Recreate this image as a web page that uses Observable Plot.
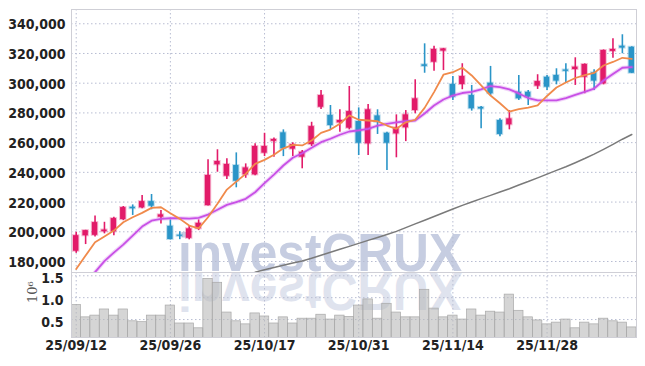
<!DOCTYPE html>
<html><head><meta charset="utf-8">
<script src="https://cdn.jsdelivr.net/npm/d3@7"></script>
<script src="https://cdn.jsdelivr.net/npm/@observablehq/plot@0.6"></script>
<style>
html,body{margin:0;padding:0;background:#fff;}
#chart{position:relative;width:645px;height:366px;overflow:hidden;background:#fff;}
#chart svg{position:absolute;left:0;}
</style></head><body><div id="chart"></div>
<script>
const dates = ["25/09/12","25/09/15","25/09/16","25/09/17","25/09/18","25/09/19","25/09/22","25/09/23","25/09/24","25/09/25",
"25/09/26","25/09/29","25/09/30","25/10/01","25/10/02","25/10/10","25/10/13","25/10/14","25/10/15","25/10/16",
"25/10/17","25/10/20","25/10/21","25/10/22","25/10/23","25/10/24","25/10/27","25/10/28","25/10/29","25/10/30",
"25/10/31","25/11/03","25/11/04","25/11/05","25/11/06","25/11/07","25/11/10","25/11/11","25/11/12","25/11/13",
"25/11/14","25/11/17","25/11/18","25/11/19","25/11/20","25/11/21","25/11/24","25/11/25","25/11/26","25/11/27",
"25/11/28","25/12/01","25/12/02","25/12/03","25/12/04","25/12/05","25/12/08","25/12/09","25/12/10","25/12/11"];

const openP  = [186900,197300,197600,200000,200100,208200,216500,216100,220300,209800,
203700,197700,195600,202000,217600,245100,237400,244600,238300,238300,
252900,260900,266600,255600,250200,258700,283800,278300,273300,269700,
274200,259200,278000,266300,265900,270000,281600,312400,314100,321600,
299100,299100,291700,283700,300000,274900,272000,293900,293900,298000,
304000,305200,308900,309200,304000,307000,299600,321400,324900,324200];
const highP  = [199700,201000,210700,206400,209800,217000,218100,224400,225100,214300,
208000,200000,204200,208000,248400,255200,249100,253100,245700,259200,
266300,263200,268600,259900,254700,273700,295100,285000,282100,297800,
283400,285700,282100,267000,278700,281600,302300,326500,324900,323400,
304500,313100,298500,284300,311300,276000,281600,305200,295100,305700,
305200,309700,313100,317100,313000,309000,322400,329900,332600,324500];
const lowP   = [185500,191400,196500,198600,197400,207500,211000,215500,214800,205300,
194500,194700,194600,200800,217300,240100,235200,229600,236000,237700,
250600,250200,250600,250600,242400,257400,282300,268600,267000,268600,
251300,251300,265500,241200,249800,260700,279400,306700,308100,308500,
288400,295600,281200,269300,291700,264000,268600,288400,285000,295800,
295100,298900,300300,298500,292900,295100,298900,316800,319800,306500];
const closeP = [197400,200800,206200,201200,208900,216300,215500,220300,217200,211400,
194800,197000,202000,205700,237900,247300,245300,234000,243000,257400,
257400,262100,255800,258700,253500,270800,291700,271500,274900,280900,
259600,282100,273700,259600,270000,278700,289500,311300,322700,323100,
290600,304500,282800,282600,292900,265500,276000,289500,290600,301100,
297300,301400,308000,310800,312600,301400,322000,322700,323600,306700];

const ma5 = [175000,184000,192900,196800,200800,206400,209800,212700,216100,216500,
212500,208700,204200,202300,209800,218800,228400,233800,239000,245700,
248400,251800,256200,258500,258100,261400,266600,268800,272700,278300,
275400,274900,274400,271500,269300,273700,275400,283400,294000,305700,
307400,310400,305200,298500,291700,286500,280900,282500,283600,285000,
291400,297100,300500,303500,305400,306900,311900,314300,317100,316300];
const ma20 = [null,null,172800,180300,186000,191400,197400,203500,207500,208700,
209100,209100,208900,209400,211600,214800,218100,219900,222200,226600,
232700,238500,244600,249800,252900,256500,260300,262600,265300,267500,
268200,269300,271500,272700,273700,274400,274900,279600,285000,289000,
291700,293400,294100,295800,298100,297400,295800,293100,290000,288400,
288400,288400,290000,292100,294100,296400,301800,306200,310400,310800];
const ma60 = [null,null,null,null,null,null,null,null,null,null,
null,null,null,null,null,null,null,null,null,172800,
174500,176000,177500,179000,180300,182200,184200,186200,188200,190200,
192200,194200,196200,198200,200300,202800,205300,207800,210300,212800,
215300,217800,220000,222300,224500,226800,229000,231500,233800,236300,
238800,241300,243800,246500,249300,252300,255500,258800,262300,265500];

const volume = [0.83,0.55,0.59,0.73,0.59,0.73,0.46,0.44,0.59,0.59,
0.82,0.41,0.41,0.30,1.43,1.34,0.66,0.46,0.39,0.64,
0.57,0.41,0.55,0.41,0.52,0.52,0.61,0.50,0.59,0.56,
0.82,0.96,0.52,0.86,0.66,0.55,0.55,1.18,0.75,0.55,
0.59,0.50,0.73,0.59,0.68,0.66,1.07,0.70,0.55,0.48,
0.39,0.43,0.50,0.30,0.43,0.39,0.52,0.46,0.43,0.32];

const priceTicks = [180000,200000,220000,240000,260000,280000,300000,320000,340000];
const dateTicks = ["25/09/12","25/09/26","25/10/17","25/10/31","25/11/14","25/11/28"];
const volumeTicks = [0.5,1.0,1.5];
const volumeTickLabels = ["0.5","1.0","1.5"];
const watermark = "investCRUX";
const volumeUnit = "10⁶";

const UP = "#e21b69", DOWN = "#2a95c8";
const FONT = "'DejaVu Sans Condensed','DejaVu Sans',sans-serif";
const GRID = {stroke: "#b8bdd2", strokeDasharray: "1.5,2.5", strokeWidth: 1};
const LABEL = {fontFamily: FONT, fontSize: 14, fontWeight: "bold", fill: "#222", fontStretch: "condensed"};

const candles = dates.map((d, i) => ({date: d, open: openP[i], high: highP[i], low: lowP[i], close: closeP[i],
  color: closeP[i] >= openP[i] ? UP : DOWN}));
const lines = (arr) => dates.map((d, i) => ({date: d, v: arr[i]}));
const vols = dates.map((d, i) => ({date: d, v: volume[i]}));
const volTicks = volumeTicks.map((v, i) => ({v, label: volumeTickLabels[i]}));

const style = {fontFamily: FONT, fontSize: "14px", color: "#222", background: "transparent", overflow: "visible"};

const price = Plot.plot({
  width: 645, height: 272,
  marginTop: 9, marginBottom: 0, marginLeft: 71, marginRight: 9,
  style,
  x: {type: "band", domain: dates, padding: 0, round: false, axis: null},
  y: {domain: [172600, 349600], axis: null},
  marks: [
    Plot.ruleY(priceTicks, GRID),
    Plot.ruleX(dateTicks, GRID),
    Plot.ruleX(candles, {x: "date", y1: "low", y2: "high", stroke: "color", strokeWidth: 1.6}),
    Plot.barY(candles, {x: "date", y1: "open", y2: "close", fill: "color", stroke: "color", strokeOpacity: 0.3, strokeWidth: 2, insetLeft: 2, insetRight: 2}),
    Plot.line(lines(ma60), {x: "date", y: "v", stroke: "#7a7a7a", strokeWidth: 1.5, clip: true}),
    Plot.line(lines(ma20), {x: "date", y: "v", stroke: "#c850e6", strokeOpacity: 0.25, strokeWidth: 4, clip: true}),
    Plot.line(lines(ma20), {x: "date", y: "v", stroke: "#c850e6", strokeWidth: 1.8, clip: true}),
    Plot.line(lines(ma5), {x: "date", y: "v", stroke: "#f08a4b", strokeWidth: 1.8, clip: true}),
    Plot.text(priceTicks, {y: d => d, text: d3.format(","), frameAnchor: "left", textAnchor: "end", dx: -6, dy: 1, ...LABEL}),
    Plot.frame({stroke: "#cfcfd6"})
  ]
});
price.style.top = "0px";

const vol = Plot.plot({
  width: 645, height: 94,
  marginTop: 0, marginBottom: 29, marginLeft: 71, marginRight: 9,
  style,
  x: {type: "band", domain: dates, padding: 0, round: false, axis: null},
  y: {domain: [0.09, 1.575], axis: null},
  marks: [
    Plot.ruleY(volumeTicks, GRID),
    Plot.ruleX(dateTicks, GRID),
    Plot.barY(vols, {x: "date", y: "v", fill: "#b9b9b9", fillOpacity: 0.6, stroke: "#a8a8a8", strokeWidth: 0.7, clip: true}),
    Plot.text(volTicks, {y: "v", text: "label", frameAnchor: "left", textAnchor: "end", dx: -8, dy: 2.5, ...LABEL}),
    Plot.text(dateTicks, {x: d => d, text: d => d, frameAnchor: "bottom", dy: 12, ...LABEL}),
    Plot.text([volumeUnit], {frameAnchor: "left", dx: -39, dy: -2, rotate: -90, fontFamily: "'DejaVu Serif',serif", fontSize: 13, fill: "#555"}),
    Plot.frame({stroke: "#cfcfd6"})
  ]
});
vol.style.top = "272px";

const chart = document.getElementById("chart");
chart.appendChild(price);
chart.appendChild(vol);

// watermark and its reflection (behind the marks)
d3.select(price).insert("text", "g")
  .attr("x", 178).attr("y", 271).attr("text-anchor", "start")
  .attr("textLength", 284).attr("lengthAdjust", "spacingAndGlyphs")
  .style("font-family", "'Liberation Sans',Arial,sans-serif").style("font-weight", "bold").style("font-size", "54px")
  .attr("fill", "#c6cde1").text(watermark);
d3.select(vol).insert("text", "g")
  .attr("transform", "scale(1,-1)").attr("text-anchor", "start")
  .attr("x", 178).attr("y", -1)
  .attr("textLength", 284).attr("lengthAdjust", "spacingAndGlyphs")
  .style("font-family", "'Liberation Sans',Arial,sans-serif").style("font-weight", "bold").style("font-size", "54px")
  .attr("fill", "#dfe3ee").text(watermark);
</script></body></html>
